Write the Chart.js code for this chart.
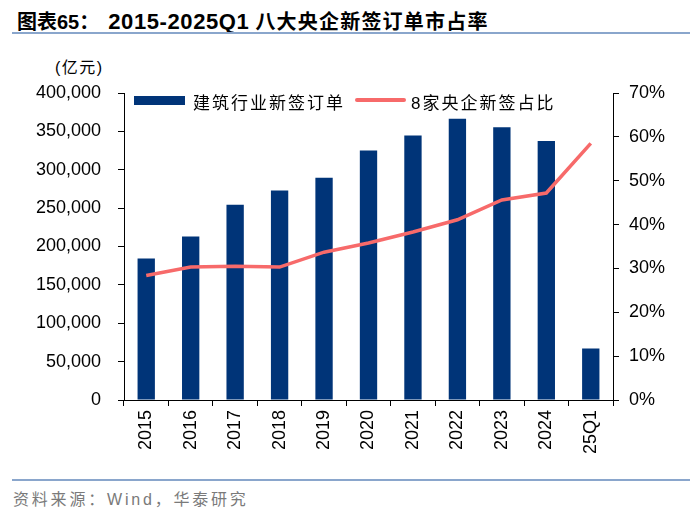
<!DOCTYPE html>
<html lang="zh">
<head>
  <meta charset="UTF-8" />
  <title>2015-2025Q1 八大央企新签订单市占率</title>
  <script src="https://cdn.jsdelivr.net/npm/chart.js"></script>
  <style>
    body {
      margin: 0;
      width: 700px;
      height: 514px;
      background: #fff;
      font-family: "Liberation Sans", "Noto Sans CJK SC", sans-serif;
      position: relative;
      overflow: hidden;
    }
    .abs { position: absolute; white-space: nowrap; }
    #title {
      left: 17px; top: 6px;
      font-size: 20px; font-weight: bold; color: #000;
    }
    #title .num { font-size: 22px; letter-spacing: 0.6px; margin-left: 9px; }
    #title .cn { letter-spacing: 1.2px; margin-left: 6px; }
    .rule { left: 12px; width: 678px; height: 2px; background: #8aa6cc; }
    #unit { left: 55px; top: 54px; font-size: 16px; color: #000; letter-spacing: 1.5px; }
    #source { left: 13px; top: 486px; font-size: 16px; color: #7a7a7a; letter-spacing: 2.8px; }
    .legend-text { font-size: 17px; color: #000; letter-spacing: 2px; top: 89px; }
    #chart-box { position: absolute; left: 0; top: 0; width: 700px; height: 514px; }
  </style>
</head>
<body>
  <div id="title" class="abs">图表65：<span class="num">2015-2025Q1</span><span class="cn">八大央企新签订单市占率</span></div>
  <div class="abs rule" style="top:32px"></div>
  <div class="abs rule" style="top:479px"></div>
  <div id="unit" class="abs">(亿元)</div>
  <div id="source" class="abs">资料来源：Wind，华泰研究</div>

  <div id="chart-box"><canvas id="chart"></canvas></div>

  <div class="abs" style="left:134px;top:96px;width:51px;height:9px;background:#003478"></div>
  <div class="abs legend-text" style="left:193px">建筑行业新签订单</div>
  <div class="abs" style="left:355px;top:98px;width:51px;height:4px;background:#f76a6a;border-radius:2px"></div>
  <div class="abs legend-text" style="left:411px">8家央企新签占比</div>

  <script>
    const years = ['2015', '2016', '2017', '2018', '2019', '2020', '2021', '2022', '2023', '2024', '25Q1'];
    // 建筑行业新签订单 (亿元)
    const orders = [184500, 213000, 254500, 273000, 289500, 325000, 344500, 366500, 355500, 337500, 67000];
    // 8家央企新签占比 (%)
    const share = [28.4, 30.3, 30.5, 30.3, 33.7, 35.8, 38.3, 41.1, 45.6, 47.2, 58.5];

    const axisFont = { family: 'Liberation Sans', size: 18 };

    new Chart(document.getElementById('chart'), {
      data: {
        labels: years,
        datasets: [
          {
            type: 'line',
            label: '8家央企新签占比',
            data: share,
            yAxisID: 'y1',
            borderColor: '#f76a6a',
            borderWidth: 3.5,
            pointRadius: 0,
            tension: 0,
            order: 0
          },
          {
            type: 'bar',
            label: '建筑行业新签订单',
            data: orders,
            yAxisID: 'y',
            backgroundColor: '#003478',
            categoryPercentage: 1,
            barPercentage: 0.39,
            order: 1
          }
        ]
      },
      options: {
        responsive: true,
        maintainAspectRatio: false,
        animation: false,
        layout: { padding: { left: 0, right: 0, top: 93, bottom: 54 } },
        plugins: { legend: { display: false }, tooltip: { enabled: false } },
        scales: {
          x: {
            grid: { drawOnChartArea: false, drawTicks: true, tickLength: 6, color: '#000', offset: true },
            border: { color: '#000', width: 1 },
            ticks: { color: '#000', font: axisFont, minRotation: 90, maxRotation: 90, padding: 4 },
            afterFit: s => { s.height = 60; }
          },
          y: {
            position: 'left',
            min: 0, max: 400000,
            grid: { drawOnChartArea: false, drawTicks: true, tickLength: 6, color: '#000' },
            border: { color: '#000', width: 1 },
            ticks: {
              stepSize: 50000, color: '#000', font: axisFont, padding: 17,
              callback: v => v.toLocaleString('en-US')
            },
            afterFit: s => { s.width = 124; }
          },
          y1: {
            position: 'right',
            min: 0, max: 70,
            grid: { drawOnChartArea: false, drawTicks: true, tickLength: 6, color: '#000' },
            border: { color: '#000', width: 1 },
            ticks: { stepSize: 10, color: '#000', font: axisFont, padding: 10, callback: v => v + '%' },
            afterFit: s => { s.width = 87; }
          }
        }
      }
    });
  </script>
</body>
</html>
